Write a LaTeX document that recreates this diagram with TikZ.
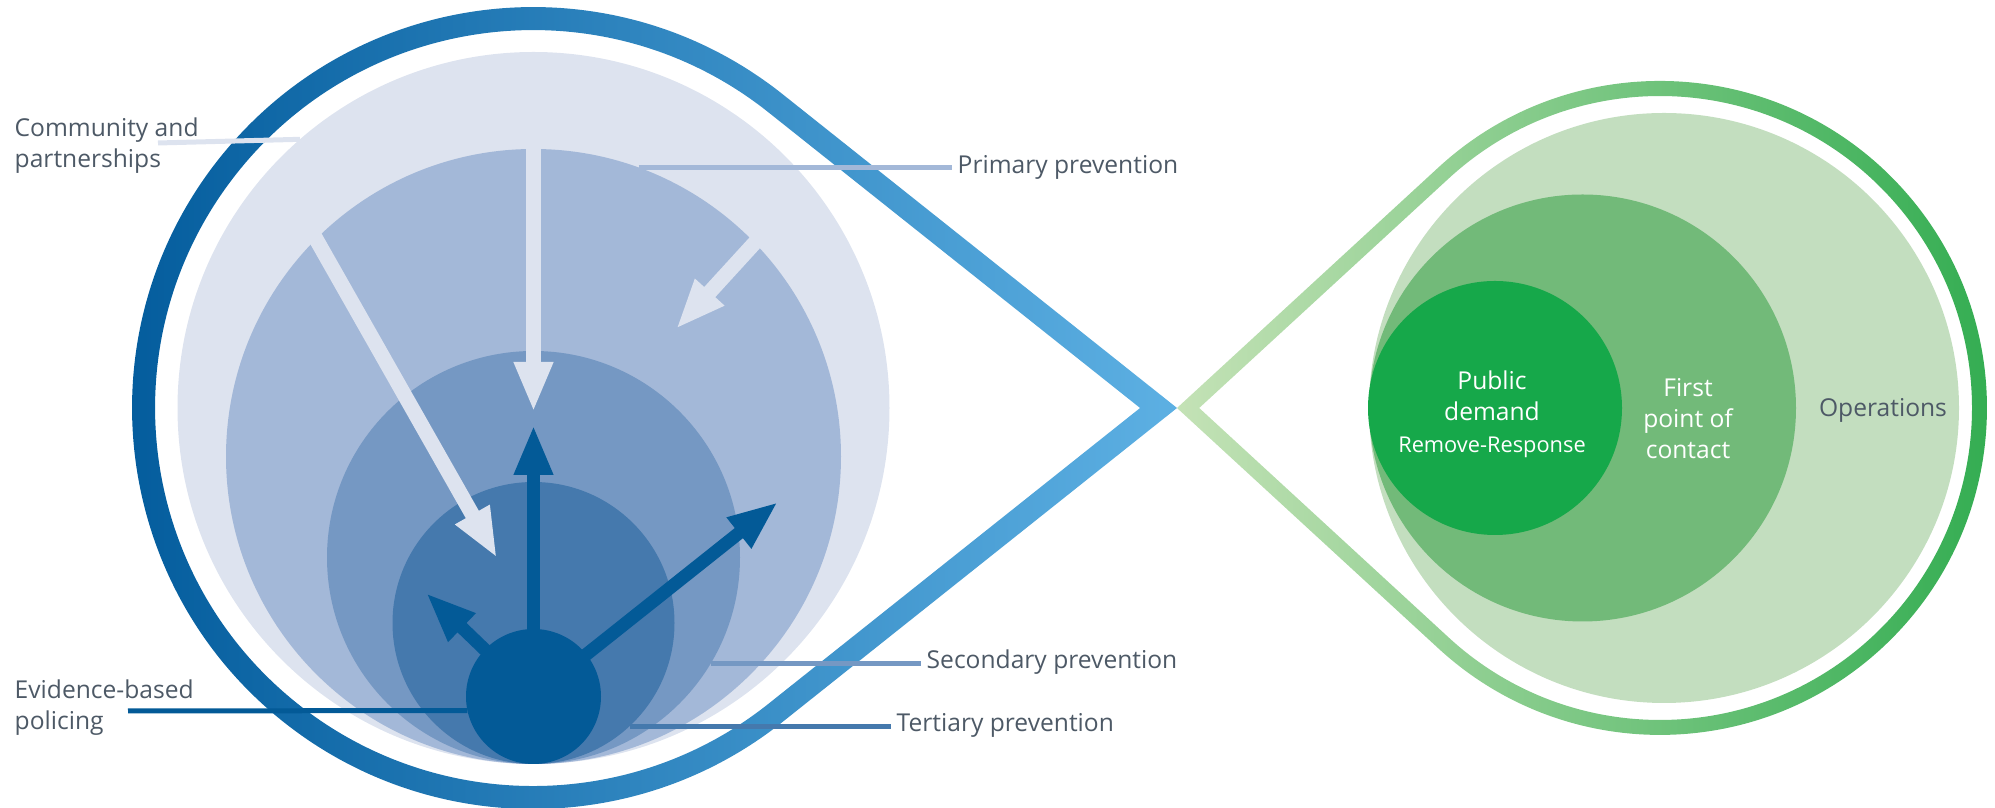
\documentclass[tikz,border=0pt]{standalone}
\usepackage{fontspec}
\setmainfont{Open Sans}
\usepackage{tikz}
\usetikzlibrary{positioning}
\usetikzlibrary{arrows.meta}

\definecolor{blueA}{HTML}{DDE3EF}
\definecolor{blueB}{HTML}{A3B8D8}
\definecolor{blueC}{HTML}{7598C3}
\definecolor{blueD}{HTML}{4579AD}
\definecolor{blueE}{HTML}{035A97}
\definecolor{greenA}{HTML}{C3DEBF}
\definecolor{greenB}{HTML}{72BA79}
\definecolor{greenC}{HTML}{16A84A}
\definecolor{loopblueL}{HTML}{00599A}
\definecolor{loopblueM}{HTML}{1479B8}
\definecolor{loopblueR}{HTML}{5DB0E3}
\definecolor{loopgreenL}{HTML}{C4E2B6}
\definecolor{loopgreenM}{HTML}{80C27C}
\definecolor{loopgreenR}{HTML}{2EAB4E}
\definecolor{labelgrey}{HTML}{4D5966}

\begin{document}
\begin{tikzpicture}[x=0.1mm, y=0.1mm,
circlenode/.style={circle, inner sep=0pt, outer sep=0pt, minimum size=#1},
labeltext/.style={text=labelgrey, font=\fontsize{7}{8.8}\selectfont, inner xsep=0.5mm, inner ysep=0pt, align=left},
innertext/.style={text=white, font=\fontsize{7}{8.8}\selectfont, inner sep=0pt, align=center},
labelline/.style={line width=0.5mm},
lightarrow/.style={draw=blueA, line width=1.5mm, shorten <=-1mm, -{Triangle[length=5mm, width=3.6mm]}},
darkarrow/.style={draw=blueE, line width=1.3mm, shorten <=-1mm, -{Triangle[length=5mm, width=3.6mm]}},
]
\useasboundingbox (0,0) rectangle (1995,808);

%Loops
\shade[left color=loopblueL, middle color=loopblueM, right color=loopblueR, even odd rule]
  (1177,400) -- (782.7,713.7) arc[start angle=51.49, end angle=308.51, radius=401] -- cycle
  (1140.1,400) -- (768.4,695.7) arc[start angle=51.49, end angle=308.51, radius=378] -- cycle;
\shade[left color=loopgreenL, middle color=loopgreenM, right color=loopgreenR, even odd rule]
  (1177,400) -- (1438.6,640.7) arc[start angle=132.61, end angle=-132.61, radius=327] -- cycle
  (1199.2,400) -- (1448.8,629.6) arc[start angle=132.61, end angle=-132.61, radius=312] -- cycle;

%Circles
\node[circlenode=71.2mm, fill=blueA] (c1) at (533.5,400) {};
\node[circlenode=61.5mm, fill=blueB] (c2) at (533.5,351.5) {};
\node[circlenode=41.3mm, fill=blueC] (c3) at (533.5,250.5) {};
\node[circlenode=28.2mm, fill=blueD] (c4) at (533.5,185) {};
\node[circlenode=13.5mm, fill=blueE] (c5) at (533.5,111.5) {};

\node[circlenode=59mm, fill=greenA]   (g1) at (1664,400) {};
\node[circlenode=42.7mm, fill=greenB] (g2) at (1582.5,400) {};
\node[circlenode=25.4mm, fill=greenC] (g3) at (1495,400) {};

%Arrows
\coordinate (tipA) at (533.5,396);
\coordinate (tipB) at (497,250);
\coordinate (tipC) at (676,479);
\coordinate (tipD) at (533.5,383);
\coordinate (tipE) at (778,306);
\coordinate (tipF) at (426,215);
\draw[lightarrow] (c2.north) -- (tipA);
\draw[lightarrow] (c2.135.9) -- (tipB);
\draw[lightarrow] (c2.44.4) -- (tipC);
\draw[darkarrow] (c5) -- (tipD);
\draw[darkarrow] (c5) -- (tipE);
\draw[darkarrow] (c5) -- (tipF);

%Labels
\node[labeltext, anchor=west] (comm) at (9,662) {Community and\\partnerships};
\node[labeltext, anchor=west] (evid) at (9,100) {Evidence-based\\policing};
\node[labeltext, anchor=west] (prim) at (952,640.5) {Primary prevention};
\node[labeltext, anchor=west] (sec)  at (921,146) {Secondary prevention};
\node[labeltext, anchor=west] (ter)  at (891,83) {Tertiary prevention};
\node[innertext] (pub) at (1492,412.5) {Public\\demand};
\node[innertext, font=\fontsize{6.2}{7.5}\selectfont] (rem) at (1492,361) {Remove-Response};
\node[innertext] (first) at (1688,389.5) {First\\point of\\contact};
\node[labeltext] (ops) at (1883,398) {Operations};

%Lines
\coordinate (commEnd) at (158,665);
\coordinate (evidEnd) at (128,97);
\draw[labelline, draw=blueA] (commEnd) -- (c1.131.9);
\draw[labelline, draw=blueB] (c2.70) -- (c2.70 -| prim.west);
\draw[labelline, draw=blueC] (c3.329.6) -- (c3.329.6 -| sec.west);
\draw[labelline, draw=blueD] (c4.313.66) -- (c4.313.66 -| ter.west);
\draw[labelline, draw=blueE] (evidEnd) -- (c5.192.4);
\end{tikzpicture}
\end{document}
